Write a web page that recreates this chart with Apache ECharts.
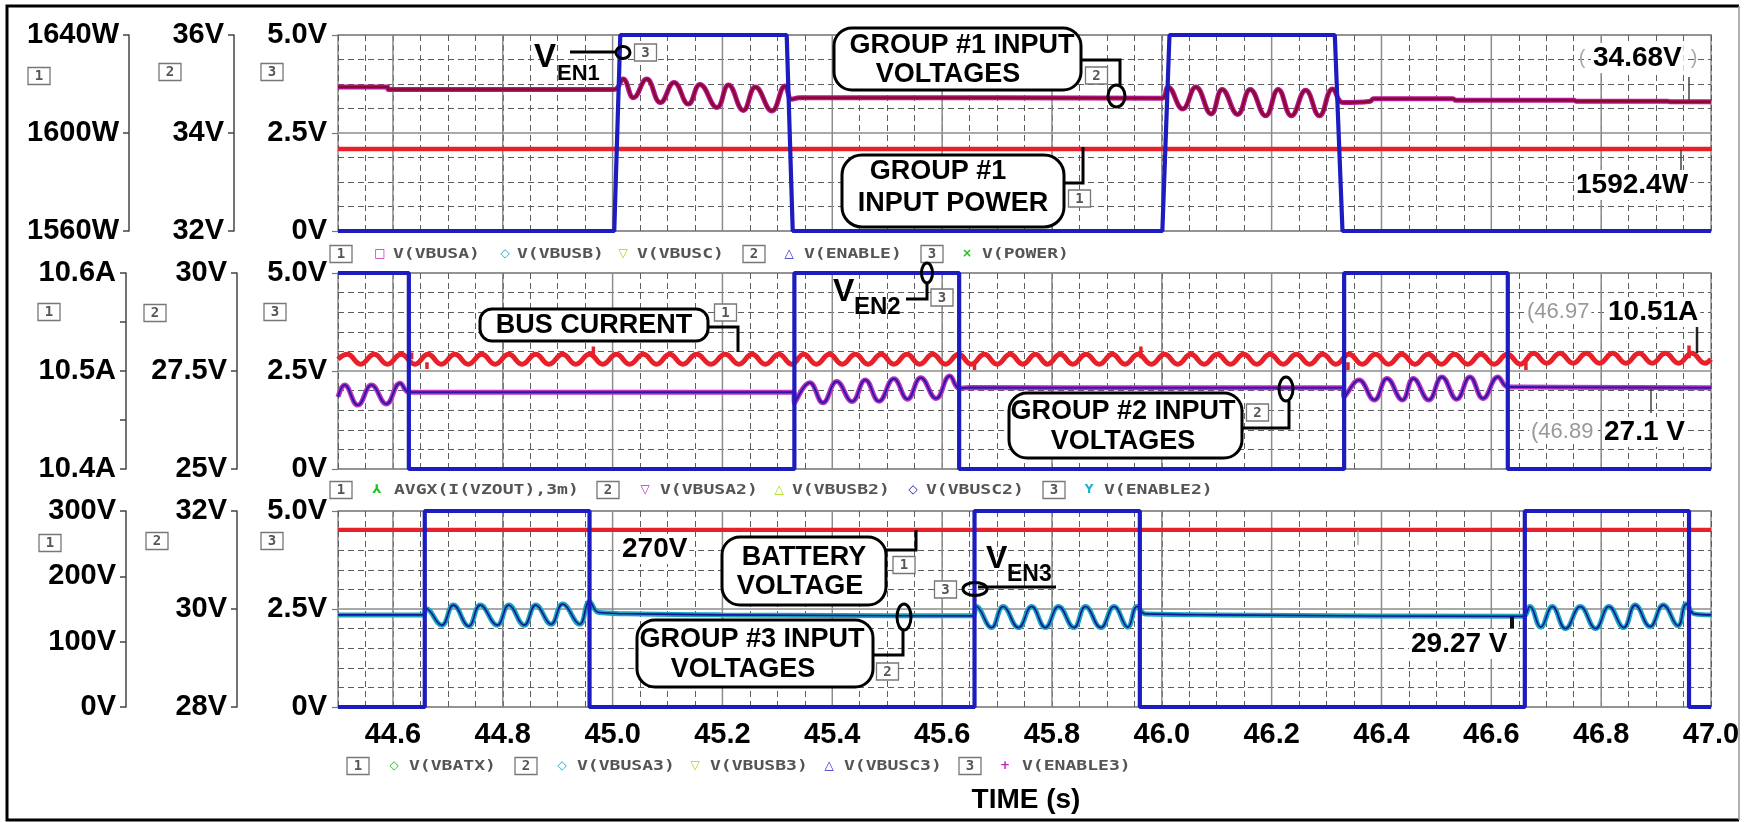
<!DOCTYPE html>
<html><head><meta charset="utf-8">
<script src="https://cdn.jsdelivr.net/npm/echarts@6/dist/echarts.min.js"></script>
<style>html,body{margin:0;padding:0;background:#fff}#c{width:1748px;height:822px}</style>
</head><body><div id="c"></div>
<script>
// ================= DATA =================
const timeRange = [44.5, 47.0];
const majorTimes = [44.6, 44.8, 45.0, 45.2, 45.4, 45.6, 45.8, 46.0, 46.2, 46.4, 46.6, 46.8];

// Panel 1 (group #1)
const p1Enable = [[44.5,0],[45.003,0],[45.014,5],[45.317,5],[45.328,0],[46.001,0],[46.014,5],[46.315,5],[46.329,0],[47.0,0]];
const p1Power = [[44.5,1593.5],[47.0,1593.5]];
const p1Vbus = [[44.5,34.94],[44.59,34.94],[44.592,34.89],[45.003,34.89],[45.019,35.10],[45.038,34.72],[45.062,35.10],[45.087,34.62],[45.112,35.03],[45.138,34.59],[45.159,34.99],[45.19,34.52],[45.211,34.98],[45.238,34.46],[45.26,34.94],[45.29,34.45],[45.314,34.96],[45.326,34.69],[45.34,34.72],[45.7,34.72],[46.0,34.71],[46.011,34.94],[46.038,34.49],[46.062,34.94],[46.09,34.39],[46.11,34.89],[46.138,34.38],[46.161,34.89],[46.189,34.35],[46.212,34.89],[46.236,34.35],[46.262,34.87],[46.287,34.35],[46.311,34.9],[46.33,34.62],[46.38,34.65],[46.385,34.7],[46.53,34.7],[46.535,34.67],[46.75,34.67],[46.755,34.65],[46.92,34.65],[46.925,34.64],[47.0,34.64]];

// Panel 2 (group #2)
const p2Enable = [[44.5,5],[44.629,5],[44.629,0],[45.331,0],[45.331,5],[45.631,5],[45.631,0],[46.332,0],[46.332,5],[46.63,5],[46.63,0],[47.0,0]];
const p2BusCurrent = [[44.5,10.512],[44.517,10.517],[44.541,10.507],[44.566,10.517],[44.59,10.507],[44.615,10.517],[44.64,10.507],[44.664,10.517],[44.688,10.507],[44.713,10.517],[44.737,10.507],[44.762,10.517],[44.786,10.507],[44.811,10.517],[44.835,10.507],[44.86,10.517],[44.884,10.507],[44.909,10.517],[44.933,10.507],[44.958,10.517],[44.982,10.507],[45.007,10.517],[45.031,10.507],[45.056,10.517],[45.08,10.507],[45.104,10.517],[45.128,10.507],[45.153,10.517],[45.179,10.507],[45.205,10.517],[45.23,10.507],[45.254,10.517],[45.278,10.507],[45.303,10.517],[45.326,10.507],[45.348,10.517],[45.371,10.507],[45.395,10.517],[45.418,10.507],[45.442,10.517],[45.465,10.507],[45.489,10.517],[45.512,10.507],[45.536,10.517],[45.559,10.507],[45.583,10.517],[45.606,10.507],[45.63,10.517],[45.653,10.507],[45.677,10.517],[45.7,10.507],[45.724,10.517],[45.747,10.507],[45.77,10.517],[45.792,10.507],[45.815,10.517],[45.838,10.507],[45.862,10.517],[45.886,10.507],[45.91,10.517],[45.933,10.507],[45.957,10.517],[45.981,10.507],[46.005,10.517],[46.029,10.507],[46.053,10.517],[46.077,10.507],[46.101,10.517],[46.125,10.507],[46.149,10.517],[46.173,10.507],[46.197,10.517],[46.221,10.507],[46.245,10.517],[46.269,10.507],[46.293,10.517],[46.317,10.507],[46.341,10.517],[46.365,10.507],[46.389,10.517],[46.413,10.507],[46.437,10.517],[46.461,10.507],[46.485,10.517],[46.509,10.507],[46.533,10.517],[46.557,10.507],[46.581,10.517],[46.605,10.507],[46.629,10.517],[46.653,10.507],[46.677,10.518],[46.701,10.508],[46.725,10.518],[46.749,10.508],[46.773,10.518],[46.797,10.508],[46.821,10.518],[46.845,10.508],[46.869,10.518],[46.893,10.508],[46.917,10.518],[46.941,10.508],[46.965,10.518],[46.989,10.508],[47.0,10.512]];
const p2BusSpikes = [[44.634,10.512],[44.634,10.519],[44.634,null],[44.662,10.509],[44.662,10.502],[44.662,null],[44.965,10.513],[44.965,10.525],[44.965,null],[45.659,10.509],[45.659,10.501],[45.659,null],[45.962,10.513],[45.962,10.525],[45.962,null],[46.339,10.509],[46.339,10.501],[46.339,null],[46.663,10.509],[46.663,10.501],[46.663,null],[46.96,10.513],[46.96,10.526]];
const p2Vbus = [[44.5,26.84],[44.512,27.14],[44.536,26.63],[44.561,27.14],[44.588,26.66],[44.613,27.19],[44.629,26.96],[44.66,26.96],[45.0,26.96],[45.33,26.96],[45.331,26.68],[45.359,27.2],[45.383,26.69],[45.408,27.23],[45.436,26.72],[45.46,27.27],[45.485,26.73],[45.512,27.3],[45.537,26.78],[45.561,27.33],[45.589,26.8],[45.614,27.37],[45.631,27.06],[45.65,27.08],[46.0,27.07],[46.33,27.07],[46.332,26.84],[46.359,27.27],[46.387,26.76],[46.41,27.31],[46.438,26.76],[46.458,27.31],[46.486,26.76],[46.51,27.35],[46.537,26.78],[46.561,27.35],[46.585,26.8],[46.612,27.35],[46.629,27.1],[46.65,27.09],[47.0,27.07]];

// Panel 3 (group #3)
const p3Enable = [[44.5,0],[44.658,0],[44.658,5],[44.958,5],[44.958,0],[45.659,0],[45.659,5],[45.96,5],[45.96,0],[46.661,0],[46.661,5],[46.96,5],[46.96,0],[47.0,0]];
const p3Battery = [[44.5,271],[47.0,271]];
const p3Vbus = [[44.5,29.88],[44.656,29.88],[44.66,30.01],[44.689,29.67],[44.71,30.08],[44.738,29.65],[44.759,30.08],[44.79,29.67],[44.811,30.08],[44.839,29.67],[44.86,30.08],[44.888,29.69],[44.909,30.1],[44.94,29.69],[44.958,30.15],[44.975,29.93],[45.05,29.9],[45.2,29.88],[45.656,29.86],[45.662,30.05],[45.69,29.62],[45.711,30.05],[45.739,29.62],[45.763,30.05],[45.788,29.62],[45.812,30.05],[45.84,29.62],[45.861,30.05],[45.889,29.62],[45.913,30.05],[45.938,29.63],[45.955,30.05],[45.97,29.9],[46.1,29.88],[46.658,29.85],[46.67,30.05],[46.69,29.63],[46.711,30.05],[46.735,29.6],[46.762,30.05],[46.79,29.6],[46.814,30.05],[46.841,29.62],[46.862,30.08],[46.889,29.64],[46.913,30.08],[46.94,29.66],[46.955,30.1],[46.97,29.9],[47.0,29.88]];

// axis ranges (left axes "1" and "2", main axis "3" is 0..5 V)
const p1Axis1 = {min:1560, max:1640, interval:40, unit:'W'};
const p1Axis2 = {min:32, max:36, interval:2, unit:'V'};
const p2Axis1 = {min:10.4, max:10.6, interval:0.05, unit:'A'};
const p2Axis2 = {min:25, max:30, interval:2.5, unit:'V'};
const p3Axis1 = {min:0, max:300, interval:100, unit:'V'};
const p3Axis2 = {min:28, max:32, interval:2, unit:'V'};

// ================= CHART =================
const FF = '"Liberation Sans", Arial, sans-serif';
const MONO = '"DejaVu Sans Mono", monospace';
const DASH = {color:'#5e5e5e', width:1, type:[6,4]};
const SOLID = {color:'#8c8c8c', width:1.5};

const panelTops = [35, 273, 511];
const panelH = 196;
const minorSplits = [4, 5, 5];
const axOffsets = [[209,104],[212,101],[212,101]];
const sideAxes = [[p1Axis1,p1Axis2],[p2Axis1,p2Axis2],[p3Axis1,p3Axis2]];

const grids = panelTops.map(t => ({left:338, right:37, top:t, height:panelH, show:true, borderColor:'#8c8c8c', borderWidth:1.5, backgroundColor:'transparent'}));

const isMajor = v => Math.abs(v*5 - Math.round(v*5)) < 1e-6;
const xAxes = panelTops.map((t,p) => ({
  type:'value', gridIndex:p, min:timeRange[0], max:timeRange[1], interval:0.05,
  axisLine:{show:false, onZero:false}, axisTick:{show:false},
  axisLabel:{show:p===2, margin:13, fontSize:29, fontWeight:'bold', fontFamily:FF, color:'#000',
    showMinLabel:true, showMaxLabel:true, hideOverlap:false,
    formatter: v => isMajor(v) ? v.toFixed(1) : ''},
  splitLine:{show:true, lineStyle:DASH}
}));

function sideFmt(a) {
  return v => {
    if (a.unit === 'A') {
      const k = Math.round(v*100);
      return (k % 10 === 0) ? (k/100).toFixed(1) + 'A' : '';
    }
    return (+v.toFixed(2)) + a.unit;
  };
}
const yAxes = [];
panelTops.forEach((t,p) => {
  yAxes.push({type:'value', gridIndex:p, position:'left', min:0, max:5, interval:2.5,
    axisLine:{show:false, onZero:false}, axisTick:{show:true, length:6, lineStyle:{color:'#777', width:1.2}},
    axisLabel:{margin:11, fontSize:29, fontWeight:'bold', fontFamily:FF, color:'#000',
      formatter: v => v === 0 ? '0V' : v.toFixed(1) + 'V'},
    splitLine:{show:true, lineStyle:SOLID},
    minorTick:{show:false, splitNumber:minorSplits[p]},
    minorSplitLine:{show:true, lineStyle:DASH}});
  [1,0].forEach(k => {
    const a = sideAxes[p][k === 1 ? 1 : 0];
    yAxes.push({type:'value', gridIndex:p, position:'left', offset:axOffsets[p][k===1?1:0],
      min:a.min, max:a.max, interval:a.interval,
      axisLine:{show:true, onZero:false, lineStyle:{color:'#444', width:1.5}},
      axisTick:{show:true, length:6, lineStyle:{color:'#444', width:1.5}},
      axisLabel:{margin:10, fontSize:29, fontWeight:'bold', fontFamily:FF, color:'#000', formatter: sideFmt(a)},
      splitLine:{show:false}});
  });
});
// yAxis index per panel: 3p = main (0..5V), 3p+1 = axis "2", 3p+2 = axis "1"

function ln(p, yk, data, color, width, z, smooth) {
  return {type:'line', xAxisIndex:p, yAxisIndex:3*p+yk, data:data, symbol:'none', showSymbol:false,
    smooth: smooth || false, connectNulls:false, clip:true, silent:true, animation:false, z:z,
    emphasis:{disabled:true}, lineStyle:{color:color, width:width}};
}
const vgridData = [];
majorTimes.forEach(t => { vgridData.push([t,0],[t,5],[t,null]); });

const BLUE = '#1c1cc0', RED = '#e8202a';
const series = [];
[0,1,2].forEach(p => series.push(ln(p, 0, vgridData, '#8c8c8c', 1.5, 1, false)));
// panel 1
series.push(ln(0, 2, p1Power, RED, 4.5, 3));
series.push(ln(0, 1, p1Vbus, '#b5179e', 5, 4, 0.45));
series.push(ln(0, 1, p1Vbus, '#8b0a2a', 2.5, 5, 0.45));
series.push(ln(0, 0, p1Enable, BLUE, 4.2, 6));
// panel 2
series.push(ln(1, 2, p2BusCurrent, RED, 5, 3, 0.45));
series.push(ln(1, 2, p2BusSpikes, RED, 3.5, 3));
series.push(ln(1, 1, p2Vbus, '#c030c0', 5, 4, 0.45));
series.push(ln(1, 1, p2Vbus, '#2a1aa8', 2, 5, 0.45));
series.push(ln(1, 0, p2Enable, BLUE, 4.2, 6));
// panel 3
series.push(ln(2, 2, p3Battery, RED, 4.2, 3));
series.push(ln(2, 1, p3Vbus, '#1aa6b6', 5, 4, 0.45));
series.push(ln(2, 1, p3Vbus, '#1414a0', 1.6, 5, 0.45));
series.push(ln(2, 0, p3Enable, BLUE, 4.2, 6));

// ================= ANNOTATIONS (graphic) =================
const G = [];
const ZG = 50;
function T(x, y, s, font, fill, align, extra) {
  const el = {type:'text', x:x, y:y, z:ZG+2, silent:true,
    style:{text:s, font:font, fill:fill || '#000', align:align || 'left', verticalAlign:'middle',
      textAlign:align || 'left', textVerticalAlign:'middle'}};
  if (extra) Object.assign(el, extra);
  G.push(el);
}
function bgT(x, y, s, font, fill, align) {
  G.push({type:'text', x:x, y:y, z:ZG+2, silent:true,
    style:{text:s, font:font, fill:fill || '#000', align:align || 'left', verticalAlign:'middle',
      textAlign:align || 'left', textVerticalAlign:'middle', backgroundColor:'#fff', padding:[1,2]}});
}
function R(x, y, w, h, r) {
  G.push({type:'rect', z:ZG, silent:true, shape:{x:x, y:y, width:w, height:h, r:r},
    style:{fill:'#fff', stroke:'#000', lineWidth:3}});
}
function PL(pts, w, col) {
  G.push({type:'polyline', z:ZG+1, silent:true, shape:{points:pts}, style:{fill:'none', stroke:col || '#000', lineWidth:w || 3}});
}
function EL(cx, cy, rx, ry) {
  G.push({type:'ellipse', z:ZG+1, silent:true, shape:{cx:cx, cy:cy, rx:rx, ry:ry}, style:{fill:'none', stroke:'#000', lineWidth:3}});
}
function BX(cx, cy, s) {
  G.push({type:'rect', z:ZG+1, silent:true, shape:{x:cx-11, y:cy-8.5, width:22, height:17}, style:{fill:'#fff', stroke:'#777', lineWidth:1.3}});
  T(cx, cy+0.5, s, 'bold 14px ' + MONO, '#555', 'center');
}
const BIG = 'bold 27px ' + FF;
const VAL = 'bold 28px ' + FF;

// outer frame
PL([[1739,6],[7,6],[7,820],[1739,820]], 3, '#000');
PL([[1739,6],[1739,820]], 1.5, '#999');

// axis number boxes
[[39,76],[170,72],[272,72]].forEach((c,i) => BX(c[0], c[1], String(i+1)));
[[49,312],[155,313],[275,312]].forEach((c,i) => BX(c[0], c[1], String(i+1)));
[[50,543],[157,541],[272,541]].forEach((c,i) => BX(c[0], c[1], String(i+1)));

// legends
const legend1 = [['box','1',341],['sym','□',380,'#c020c0'],['txt','V(VBUSA)',393],['sym','◇',505,'#20b0c8'],['txt','V(VBUSB)',517],['sym','▽',623,'#a8d800'],['txt','V(VBUSC)',637],['box','2',754],['sym','△',789,'#2020c0'],['txt','V(ENABLE)',804],['box','3',932],['sym','×',967,'#20c020'],['txt','V(POWER)',982]];
const legend2 = [['box','1',341],['sym','⅄',377,'#20c020'],['txt','AVGX(I(VZOUT),3m)',394],['box','2',608],['sym','▽',645,'#c020c0'],['txt','V(VBUSA2)',660],['sym','△',779,'#a8d800'],['txt','V(VBUSB2)',792],['sym','◇',913,'#2020c0'],['txt','V(VBUSC2)',926],['box','3',1054],['sym','Y',1089,'#20b0c8'],['txt','V(ENABLE2)',1104]];
const legend3 = [['box','1',358],['sym','◇',394,'#20c020'],['txt','V(VBATX)',409],['box','2',526],['sym','◇',562,'#20b0c8'],['txt','V(VBUSA3)',577],['sym','▽',695,'#a8d800'],['txt','V(VBUSB3)',710],['sym','△',829,'#2020c0'],['txt','V(VBUSC3)',844],['box','3',970],['sym','+',1005,'#c020c0'],['txt','V(ENABLE3)',1022]];
[[legend1,254],[legend2,490],[legend3,766]].forEach(([items,y]) => {
  items.forEach(it => {
    if (it[0] === 'box') BX(it[2], y, it[1]);
    else if (it[0] === 'sym') T(it[2], y, it[1], 'bold 12px "DejaVu Sans", sans-serif', it[3], 'center');
    else T(it[2], y, it[1], 'bold 14px ' + MONO, '#555', 'left', {scaleX:1.29});
  });
});

// TIME (s)
T(1026, 800, 'TIME (s)', 'bold 28px ' + FF, '#000', 'center');

// ---- panel 1 callouts ----
T(534, 58, 'V', 'bold 33px ' + FF);
T(557, 74, 'EN1', 'bold 22px ' + FF);
PL([[570,52],[616,52]]); EL(623, 52.5, 7, 6); BX(645.5, 52.5, '3');
R(834, 28, 247, 62, 18);
T(962, 46, 'GROUP #1 INPUT', BIG, '#000', 'center');
T(948, 75, 'VOLTAGES', BIG, '#000', 'center');
PL([[1081,60],[1120,60],[1120,85]]); EL(1116.5, 96, 8.5, 11); BX(1096.5, 75.5, '2');
R(842, 155, 222, 72, 20);
T(938, 172, 'GROUP #1', BIG, '#000', 'center');
T(953, 204, 'INPUT POWER', BIG, '#000', 'center');
PL([[1064,183],[1083,183],[1083,147]]); BX(1079.5, 198.5, '1');
T(1582, 58, '(', '20px ' + FF, '#aaa', 'center');
bgT(1591, 58, '34.68V', VAL);
T(1694, 58, ')', '20px ' + FF, '#aaa', 'center');
PL([[1689,77],[1689,100]], 1.5, '#444');
bgT(1574, 185, '1592.4W', VAL);
PL([[1681,149],[1681,170]], 1.5, '#444');

// ---- panel 2 callouts ----
R(480, 309, 228, 32, 12);
T(594, 325.5, 'BUS CURRENT', BIG, '#000', 'center');
PL([[708,327],[738,327],[738,352]]); BX(725.5, 312.5, '1');
T(833, 292.5, 'V', 'bold 32px ' + FF);
T(854, 307, 'EN2', 'bold 24px ' + FF);
PL([[906,299],[927,299],[927,283]]); EL(927, 273, 5.5, 10); BX(942, 297.5, '3');
R(1009, 393, 233, 65, 18);
T(1123, 412, 'GROUP #2 INPUT', BIG, '#000', 'center');
T(1123, 442, 'VOLTAGES', BIG, '#000', 'center');
PL([[1242,428],[1289,428],[1289,401]]); EL(1286, 389, 7, 12); BX(1257.5, 412.5, '2');
bgT(1525, 312, '(46.97', '22px ' + FF, '#999');
bgT(1606, 312, '10.51A', VAL);
PL([[1697,327],[1697,353]], 2.5, '#222');
bgT(1529, 432, '(46.89', '22px ' + FF, '#999');
bgT(1602, 432, '27.1 V', VAL);
PL([[1651,387],[1651,413]], 1.5, '#444');

// ---- panel 3 callouts ----
bgT(620, 549, '270V', VAL);
R(722, 537, 164, 68, 18);
T(804, 558, 'BATTERY', BIG, '#000', 'center');
T(800, 587, 'VOLTAGE', BIG, '#000', 'center');
PL([[886,550],[916,550],[916,530]]); BX(904, 565, '1');
T(986, 559.5, 'V', 'bold 32px ' + FF);
T(1007, 575, 'EN3', 'bold 23px ' + FF);
PL([[978,587],[1056,587]]); EL(975, 589, 12, 6.5); BX(945.5, 589.5, '3');
R(637, 620, 236, 67, 18);
T(752, 640, 'GROUP #3 INPUT', BIG, '#000', 'center');
T(743, 670, 'VOLTAGES', BIG, '#000', 'center');
PL([[873,655],[903,655],[903,630]]); EL(904, 617, 7, 13); BX(887.5, 671.5, '2');
bgT(1409, 644, '29.27 V', VAL);
PL([[1512,617],[1512,628]], 4, '#111');
PL([[1358,530],[1358,545]], 1.2, '#999');

const chart = echarts.init(document.getElementById('c'), null, {renderer:'canvas'});
chart.setOption({
  animation:false,
  backgroundColor:'#fff',
  grid:grids, xAxis:xAxes, yAxis:yAxes, series:series,
  graphic:{elements:G}
});
</script></body></html>
